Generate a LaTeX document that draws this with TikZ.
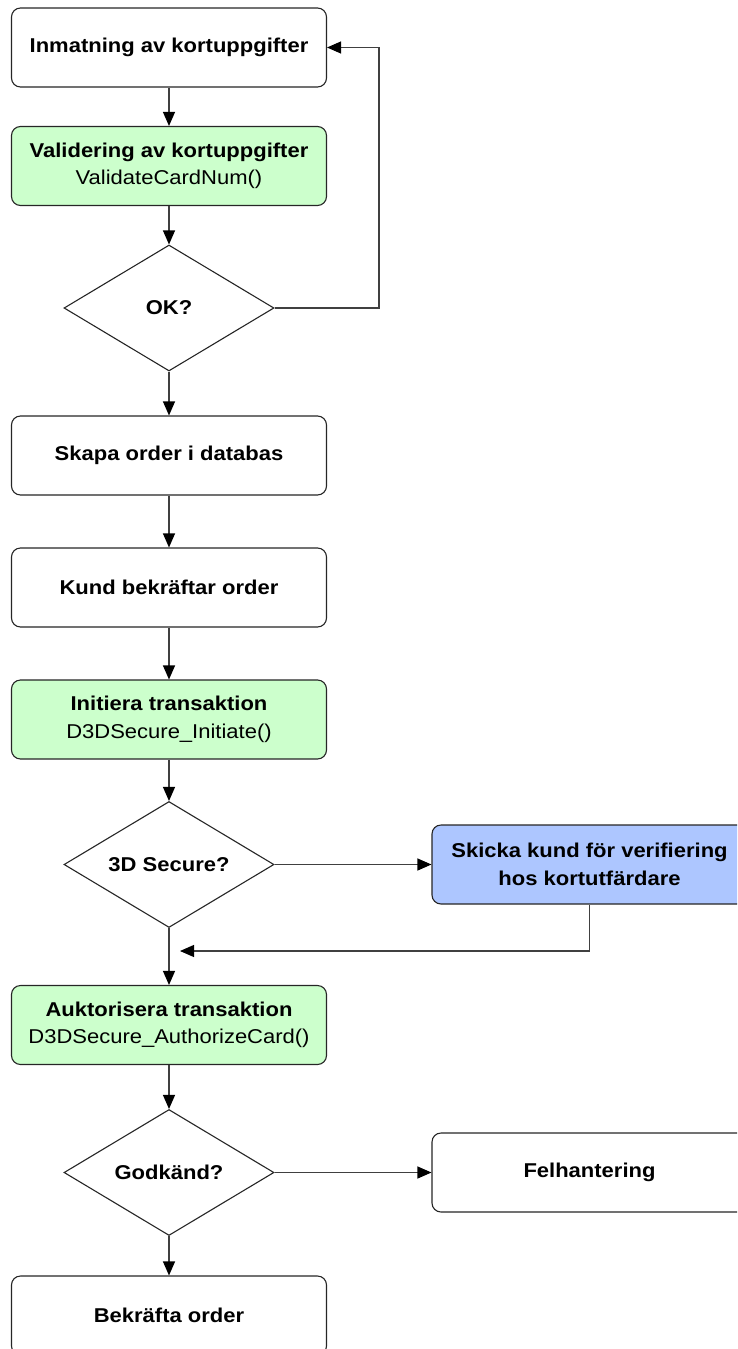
\documentclass[tikz,border=0pt]{standalone}
\usepackage{fontspec}
\setmainfont{Liberation Sans}[FakeStretch=1.1]
\usetikzlibrary{shapes.geometric,arrows.meta}
\definecolor{stepgreen}{RGB}{204,255,204}
\definecolor{stepblue}{RGB}{173,198,255}
\definecolor{edgegray}{RGB}{64,64,64}
\begin{document}
\begin{tikzpicture}[x=1pt,y=-1pt,
  font=\fontsize{20}{27.5}\selectfont,
  stepbox/.style={draw=black!85,line width=1.1pt,rounded corners=9pt,fill=white,
    minimum width=315pt,minimum height=79pt,inner sep=0pt,align=center,text=black},
  callbox/.style={stepbox,fill=stepgreen},
  bluebox/.style={stepbox,fill=stepblue},
  decision/.style={diamond,draw=black!85,line width=1.1pt,fill=white,aspect=1.667,
    minimum width=210pt,minimum height=126pt,inner sep=0pt,align=center},
  flow/.style={draw=edgegray,line width=1.1pt,-{Triangle[length=14pt,width=12pt,color=black]}}]
\useasboundingbox (0,0) rectangle (737,1349);
\begin{scope}
\clip (0,0) rectangle (737,1349);
\node[stepbox] (input) at (169,47.5) {\bfseries Inmatning av kortuppgifter};
\node[callbox] (validate) at (169,166) {\bfseries Validering av kortuppgifter\\ValidateCardNum()};
\node[decision] (ok) at (169,308) {\bfseries OK?};
\node[stepbox] (order) at (169,455.5) {\bfseries Skapa order i databas};
\node[stepbox] (confirm) at (169,587.5) {\bfseries Kund bekräftar order};
\node[callbox] (initiate) at (169,719.5) {\bfseries Initiera transaktion\\D3DSecure\_Initiate()};
\node[decision] (secure) at (169,864.5) {\bfseries 3D Secure?};
\node[bluebox] (verify) at (589.5,864.5) {\bfseries Skicka kund för verifiering\\\bfseries hos kortutfärdare};
\node[callbox] (authorize) at (169,1025) {\bfseries Auktorisera transaktion\\D3DSecure\_AuthorizeCard()};
\node[decision] (approved) at (169,1172.5) {\bfseries Godkänd?};
\node[stepbox] (error) at (589.5,1172.5) {\bfseries Felhantering};
\node[stepbox] (done) at (169,1315.5) {\bfseries Bekräfta order};

\coordinate (loopR) at (379,308);
\coordinate (loopT) at (379,47.5);
\coordinate (backR) at (589.5,951);
\coordinate (backL) at (180,951);

\draw[flow] (input) -- (validate);
\draw[flow] (validate) -- (ok);
\draw[flow] (ok.east) -- (loopR) -- (loopT) -- (input.east);
\draw[flow] (ok) -- (order);
\draw[flow] (order) -- (confirm);
\draw[flow] (confirm) -- (initiate);
\draw[flow] (initiate) -- (secure);
\draw[flow] (secure.east) -- (verify.west);
\draw[flow] (verify.south) -- (backR) -- (backL);
\draw[flow] (secure.south) -- (authorize.north);
\draw[flow] (authorize) -- (approved);
\draw[flow] (approved.east) -- (error.west);
\draw[flow] (approved.south) -- (done.north);
\end{scope}
\end{tikzpicture}
\end{document}
